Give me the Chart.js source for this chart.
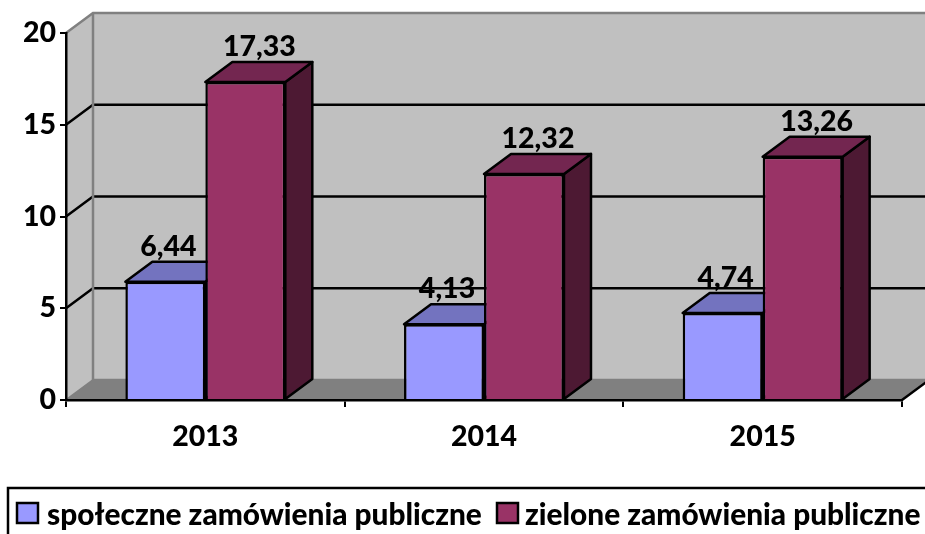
<!DOCTYPE html>
<html>
<head>
<meta charset="utf-8">
<style>
  html, body { margin: 0; padding: 0; background: #fff; }
  #wrap { width: 925px; height: 534px; overflow: hidden; }
</style>
<script src="https://cdn.jsdelivr.net/npm/chart.js@4"></script>
</head>
<body>
<div id="wrap"><canvas id="myChart" width="925" height="534"></canvas></div>
<script>
const years = ["2013", "2014", "2015"];
const spoleczne = [6.44, 4.13, 4.74];
const zielone = [17.33, 12.32, 13.26];
const seriesNames = ["społeczne zamówienia publiczne", "zielone zamówienia publiczne"];
const yTicks = [0, 5, 10, 15, 20];

const DX = 27, DY = -20; // depth of the fake 3d
const boldFont = size => ({ family: "Lato", weight: "900", size: size });

function poly(ctx, pts, fill, stroke, lw) {
  ctx.beginPath();
  pts.forEach((p, i) => (i ? ctx.lineTo(p[0], p[1]) : ctx.moveTo(p[0], p[1])));
  ctx.closePath();
  if (fill) { ctx.fillStyle = fill; ctx.fill(); }
  if (stroke) { ctx.strokeStyle = stroke; ctx.lineWidth = lw; ctx.stroke(); }
}

function line(ctx, pts, color, lw) {
  ctx.beginPath();
  pts.forEach((p, i) => (i ? ctx.lineTo(p[0], p[1]) : ctx.moveTo(p[0], p[1])));
  ctx.strokeStyle = color;
  ctx.lineWidth = lw;
  ctx.stroke();
}

// back wall, side wall and floor
const walls = {
  id: "walls",
  beforeDraw(chart) {
    const ctx = chart.ctx, a = chart.chartArea, y = chart.scales.y;
    const l = a.left, r = a.right, b = y.getPixelForValue(0), t = y.getPixelForValue(20);
    ctx.save();
    poly(ctx, [[l + DX, t + DY], [r + DX, t + DY], [r + DX, b + DY], [l + DX, b + DY]], "#c0c0c0");
    poly(ctx, [[l, t], [l + DX, t + DY], [l + DX, b + DY], [l, b]], "#c0c0c0");
    poly(ctx, [[l, b], [l + DX, b + DY], [r + DX, b + DY], [r, b]], "#808080");
    yTicks.slice(1, -1).forEach(v => {
      const p = y.getPixelForValue(v);
      line(ctx, [[l, p], [l + DX, p + DY], [r + DX, p + DY]], "#000", 2.5);
    });
    line(ctx, [[l, t], [l + DX, t + DY], [r + DX, t + DY]], "#808080", 2.5);
    line(ctx, [[l + DX, t + DY], [l + DX, b + DY], [r + DX, b + DY]], "#808080", 2.5);
    line(ctx, [[l, b], [l + DX, b + DY]], "#808080", 2);
    line(ctx, [[r, b], [r + DX, b + DY]], "#000", 2.5);
    ctx.restore();
  }
};

// top and side faces of the bars
const barFaces = {
  id: "barFaces",
  beforeDatasetsDraw(chart) {
    const ctx = chart.ctx;
    const tops = ["#7373bf", "#732650"], sides = ["#7373bf", "#4d1933"];
    ctx.save();
    ctx.lineJoin = "round";
    chart.data.datasets.forEach((ds, i) => {
      chart.getDatasetMeta(i).data.forEach(el => {
        const l = el.x - el.width / 2, r = el.x + el.width / 2, t = el.y, b = el.base;
        poly(ctx, [[r, t], [r + DX, t + DY], [r + DX, b + DY], [r, b]], sides[i], "#000", 2.5);
        poly(ctx, [[l, t], [l + DX, t + DY], [r + DX, t + DY], [r, t]], tops[i], "#000", 2.5);
      });
    });
    ctx.restore();
  }
};

// value labels and the legend in its frame
const extras = {
  id: "extras",
  afterDraw(chart) {
    const ctx = chart.ctx;
    const shift = [3, 14];
    ctx.save();
    ctx.font = "900 28.5px Lato";
    ctx.fillStyle = "#000";
    ctx.textAlign = "center";
    ctx.textBaseline = "middle";
    chart.data.datasets.forEach((ds, i) => {
      chart.getDatasetMeta(i).data.forEach((el, j) => {
        ctx.fillText(ds.data[j].toFixed(2).replace(".", ","), el.x + shift[i], el.y - 35);
      });
    });
    ctx.strokeStyle = "#000";
    ctx.lineWidth = 2.5;
    ctx.strokeRect(8, 488, 940, 80);
    const boxX = [17, 497], textX = [47, 525];
    ctx.font = "900 29.8px Lato";
    ctx.textAlign = "left";
    chart.data.datasets.forEach((ds, i) => {
      ctx.fillStyle = ds.backgroundColor;
      ctx.fillRect(boxX[i], 503, 21, 20);
      ctx.strokeRect(boxX[i], 503, 21, 20);
      ctx.fillStyle = "#000";
      ctx.fillText(ds.label, textX[i], 515);
    });
    ctx.restore();
  }
};

new Chart("myChart", {
  type: "bar",
  data: {
    labels: years,
    datasets: [
      { label: seriesNames[0], data: spoleczne, backgroundColor: "#9999ff", borderColor: "#000", borderWidth: 2.5 },
      { label: seriesNames[1], data: zielone, backgroundColor: "#993366", borderColor: "#000", borderWidth: 2.5 }
    ]
  },
  options: {
    responsive: false,
    animation: false,
    layout: { padding: { left: 0, right: 23, top: 33, bottom: 0 } },
    datasets: { bar: { categoryPercentage: 0.574, barPercentage: 1 } },
    scales: {
      x: {
        offset: true,
        afterFit(s) { s.height = 134; },
        border: { color: "#000", width: 2.5 },
        grid: { offset: true, drawOnChartArea: false, color: "#000", lineWidth: 2, tickLength: 7 },
        ticks: { color: "#000", font: boldFont(28.5), padding: 13, maxRotation: 0 }
      },
      y: {
        min: 0,
        max: 20,
        afterFit(s) { s.width = 66; },
        border: { color: "#000", width: 2.5 },
        grid: { drawOnChartArea: false, color: "#000", lineWidth: 2, tickLength: 6 },
        ticks: {
          stepSize: 5,
          color: "#000",
          font: boldFont(28.5),
          padding: 4
        }
      }
    },
    plugins: {
      tooltip: { enabled: false },
      legend: { display: false }
    }
  },
  plugins: [walls, barFaces, extras]
});
</script>
</body>
</html>
